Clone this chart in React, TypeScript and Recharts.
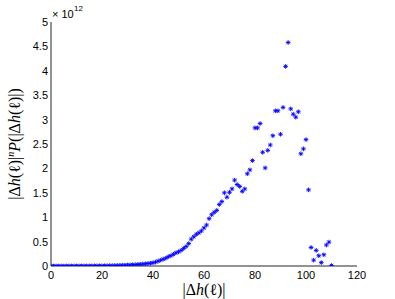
import React from 'react';
import { ScatterChart, Scatter, XAxis, YAxis, Customized } from 'recharts';

// |Δh(ℓ)| values (x) and |Δh(ℓ)|^n P(|Δh(ℓ)|) in units of 1e12 (y)
const xValues: number[] = [
  0, 1, 2, 3, 4, 5, 6, 7, 8, 9,
  10, 11, 12, 13, 14, 15, 16, 17, 18, 19,
  20, 21, 22, 23, 24, 25, 26, 27, 28, 29,
  30, 31, 32, 33, 34, 35, 36, 37, 38, 39,
  40, 41, 42, 43, 44, 45, 46, 47, 48, 49,
  50, 51, 52, 53, 54, 55, 56, 57, 58, 59,
  60, 61, 62, 63, 64, 65, 66, 67, 68, 69,
  70, 71, 72, 73, 74, 75, 76, 77, 78, 79,
  80, 81, 82, 83, 84, 85, 86, 87, 88, 89,
  90, 91, 92, 93, 94, 95, 96, 97, 98, 99,
  100, 101, 102, 103, 104, 105, 106, 107, 108, 109,
  110,
];
const yValues: number[] = [
  0.000, 0.000, 0.000, 0.000, 0.000, 0.000, 0.001, 0.001, 0.001, 0.001,
  0.001, 0.001, 0.002, 0.002, 0.002, 0.003, 0.003, 0.004, 0.004, 0.005,
  0.005, 0.006, 0.007, 0.008, 0.009, 0.010, 0.011, 0.013, 0.015, 0.017,
  0.019, 0.022, 0.025, 0.028, 0.031, 0.035, 0.040, 0.045, 0.051, 0.058,
  0.066, 0.080, 0.100, 0.120, 0.140, 0.160, 0.190, 0.210, 0.240, 0.270,
  0.290, 0.320, 0.360, 0.400, 0.460, 0.550, 0.600, 0.650, 0.680, 0.720,
  0.780, 0.840, 0.970, 1.050, 1.100, 1.140, 1.260, 1.320, 1.500, 1.410,
  1.510, 1.580, 1.760, 1.670, 1.630, 1.530, 1.580, 1.890, 1.970, 2.160,
  2.830, 2.830, 2.920, 2.330, 2.010, 2.370, 2.480, 2.670, 3.180, 3.180,
  2.700, 3.250, 4.090, 4.580, 3.220, 3.110, 3.050, 3.160, 2.300, 2.400,
  2.590, 1.560, 0.380, 0.120, 0.320, 0.210, 0.070, 0.230, 0.430, 0.490,
  0.010,
];
const xTicks: number[] = [0, 20, 40, 60, 80, 100, 120];
const yTicks: number[] = [0, 0.5, 1, 1.5, 2, 2.5, 3, 3.5, 4, 4.5, 5];

const data = xValues.map((x, i) => ({ x, y: yValues[i] }));

const AXIS = '#262626';
const BLUE = '#0000ff';
const FONT = 'Liberation Sans, Arial, Helvetica, sans-serif';
const SERIF = 'Liberation Serif, Times New Roman, serif';

const Asterisk = (props: any) => {
  const { cx, cy } = props;
  if (cx == null || cy == null) return null;
  const r = 2.3;
  const d = r * 0.72;
  return (
    <path
      d={`M${cx - r},${cy}L${cx + r},${cy}M${cx},${cy - r}L${cx},${cy + r}M${cx - d},${cy - d}L${cx + d},${cy + d}M${cx - d},${cy + d}L${cx + d},${cy - d}`}
      stroke={BLUE}
      strokeWidth={0.9}
      fill="none"
    />
  );
};

const Texts = () => (
  <g>
    <text x={52} y={18} fontSize={11} fontFamily={FONT} fill="#000">× 10</text>
    <text x={74} y={11} fontSize={8} fontFamily={FONT} fill="#000">12</text>
    <text x={204} y={295} fontSize={16} fontFamily={SERIF} fill="#000" textAnchor="middle">
      |Δ<tspan fontStyle="italic">h</tspan>(ℓ)|
    </text>
    <text
      x={0}
      y={0}
      transform="translate(20,144) rotate(-90)"
      fontSize={16}
      fontFamily={SERIF}
      fill="#000"
      textAnchor="middle"
    >
      |Δ<tspan fontStyle="italic">h</tspan>(ℓ)|<tspan fontStyle="italic" fontSize={10} dy={-6}>n</tspan>
      <tspan fontStyle="italic" dy={6}>P</tspan>(|Δ<tspan fontStyle="italic">h</tspan>(ℓ)|)
    </text>
  </g>
);

const empty = () => '';

export default function App() {
  return (
    <div style={{ position: 'absolute', left: 0, top: 0, width: 395, height: 299, background: '#fff' }}>
      <ScatterChart width={395} height={299} margin={{ top: 22, right: 38, left: 21, bottom: 13 }}>
        <XAxis
          xAxisId="b"
          dataKey="x"
          type="number"
          domain={[0, 120]}
          ticks={xTicks}
          orientation="bottom"
          height={20}
          stroke={AXIS}
          tickLine={false}
          tickSize={0}
          tickMargin={5}
          tick={{ fontSize: 11, fill: '#000', fontFamily: FONT }}
          allowDataOverflow
        />
        <XAxis
          xAxisId="bt"
          type="number"
          domain={[0, 120]}
          ticks={xTicks}
          orientation="bottom"
          height={0}
          mirror
          axisLine={false}
          tickSize={3}
          stroke={AXIS}
          tickFormatter={empty}
        />
        <XAxis
          xAxisId="t"
          type="number"
          domain={[0, 120]}
          ticks={xTicks}
          orientation="top"
          height={0}
          mirror
          tickSize={3}
          stroke={AXIS}
          tickFormatter={empty}
        />
        <YAxis
          yAxisId="l"
          dataKey="y"
          type="number"
          domain={[0, 5]}
          ticks={yTicks}
          orientation="left"
          width={30}
          stroke={AXIS}
          tickLine={false}
          tickSize={0}
          tickMargin={3}
          tick={{ fontSize: 11, fill: '#000', fontFamily: FONT }}
          allowDataOverflow
        />
        <YAxis
          yAxisId="lt"
          type="number"
          domain={[0, 5]}
          ticks={yTicks}
          orientation="left"
          width={0}
          mirror
          axisLine={false}
          tickSize={3}
          stroke={AXIS}
          tickFormatter={empty}
        />
        <YAxis
          yAxisId="r"
          type="number"
          domain={[0, 5]}
          ticks={yTicks}
          orientation="right"
          width={0}
          mirror
          tickSize={3}
          stroke={AXIS}
          tickFormatter={empty}
        />
        <Scatter
          data={data}
          xAxisId="b"
          yAxisId="l"
          shape={Asterisk}
          isAnimationActive={false}
        />
        <Customized component={Texts} />
      </ScatterChart>
    </div>
  );
}
